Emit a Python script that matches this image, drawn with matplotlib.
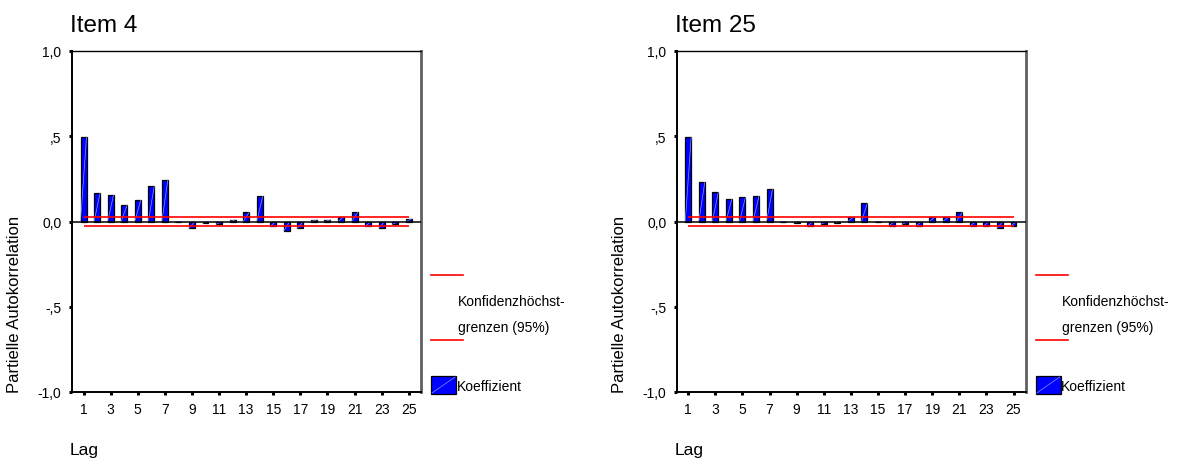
import matplotlib
matplotlib.use("Agg")
import matplotlib.pyplot as plt
import numpy as np
from matplotlib.lines import Line2D
from matplotlib.patches import Rectangle

plt.rcParams['font.family'] = ['Liberation Sans', 'DejaVu Sans']

# Daten
lags = np.arange(1, 26)
item4_pacf = [0.496, 0.165, 0.157, 0.098, 0.125, 0.208, 0.243, -0.003, -0.039, -0.010,
              -0.016, 0.010, 0.053, 0.147, -0.027, -0.053, -0.039, 0.010, 0.010, 0.029,
              0.053, -0.027, -0.039, -0.016, 0.016]
item25_pacf = [0.496, 0.229, 0.171, 0.133, 0.141, 0.149, 0.192, -0.002, -0.008, -0.027,
               -0.016, -0.008, 0.027, 0.106, -0.002, -0.027, -0.016, -0.027, 0.027, 0.027,
               0.053, -0.027, -0.027, -0.039, -0.027]
conf_limit = 0.028
titles = ["Item 4", "Item 25"]
y_ticks = [-1.0, -0.5, 0.0, 0.5, 1.0]
y_ticklabels = ["-1,0", "-,5", "0,0", ",5", "1,0"]
x_ticks = lags[::2]

W, H = 1179, 464
fig = plt.figure(figsize=(W / 100, H / 100), dpi=100)


def fx(px):
    return px / W


def fy(py):
    return 1 - py / H


def chart(x0, title, values):
    ax = fig.add_axes([fx(x0), fy(393), fx(349), 341 / H])
    w = 0.44
    ax.bar(lags, values, width=w, color="#0000ff", edgecolor="black", linewidth=0.9, zorder=2)
    # SPSS-typische Diagonale in jedem Balken
    for lag, v in zip(lags, values):
        ax.plot([lag - w / 2, lag + w / 2], [min(0, v), max(0, v)], color="#7f9cff",
                lw=0.5, zorder=3)
    ax.axhline(0, color="black", lw=1.1, zorder=4)
    ax.hlines([conf_limit, -conf_limit], 1, 25, colors="red", lw=1.2, zorder=5)

    ax.set_xlim(0.15, 25.9)
    ax.set_ylim(-1, 1)
    ax.set_yticks(y_ticks)
    ax.set_yticklabels(y_ticklabels)
    ax.set_xticks(x_ticks)
    ax.set_xticklabels([str(v) for v in x_ticks])
    ax.tick_params(axis="both", direction="out", length=2.5, width=2.2, labelsize=10)
    ax.tick_params(axis="y", pad=5)
    ax.tick_params(axis="x", pad=5)
    for s in ["left", "bottom", "top"]:
        ax.spines[s].set_color("black")
    ax.spines["left"].set_linewidth(1.4)
    ax.spines["bottom"].set_linewidth(1.4)
    ax.spines["top"].set_linewidth(1.0)
    ax.spines["right"].set_color("#606060")
    ax.spines["right"].set_linewidth(2.0)

    fig.text(fx(x0 - 2), fy(31.5), title, fontsize=17.5, ha="left", va="baseline")
    fig.text(fx(x0 - 57), fy(393), "Partielle Autokorrelation", fontsize=12,
             rotation=90, ha="center", va="bottom")
    fig.text(fx(x0 - 2), fy(455), "Lag", fontsize=12.5, ha="left", va="baseline")

    # Legende
    lx = x0 + 359
    for ly in (275.7, 341):
        fig.add_artist(Line2D([fx(lx), fx(lx + 32)], [fy(ly), fy(ly)], color="red", lw=1.2,
                              transform=fig.transFigure))
    fig.text(fx(lx + 26.5), fy(302), "Konfidenzhöchst-", fontsize=10, ha="left", va="center")
    fig.text(fx(lx + 26.5), fy(328), "grenzen (95%)", fontsize=10, ha="left", va="center")
    fig.add_artist(Rectangle((fx(lx), fy(395)), fx(25), 18 / H, facecolor="#0000ff",
                             edgecolor="black", lw=0.9, transform=fig.transFigure))
    fig.add_artist(Line2D([fx(lx + 1), fx(lx + 24)], [fy(394), fy(378)], color="#7f9cff",
                          lw=0.5, transform=fig.transFigure))
    fig.text(fx(lx + 25.5), fy(387), "Koeffizient", fontsize=10, ha="left", va="center")
    return ax


chart(72, titles[0], item4_pacf)
chart(676.7, titles[1], item25_pacf)

fig.savefig("out.png", dpi=100)
